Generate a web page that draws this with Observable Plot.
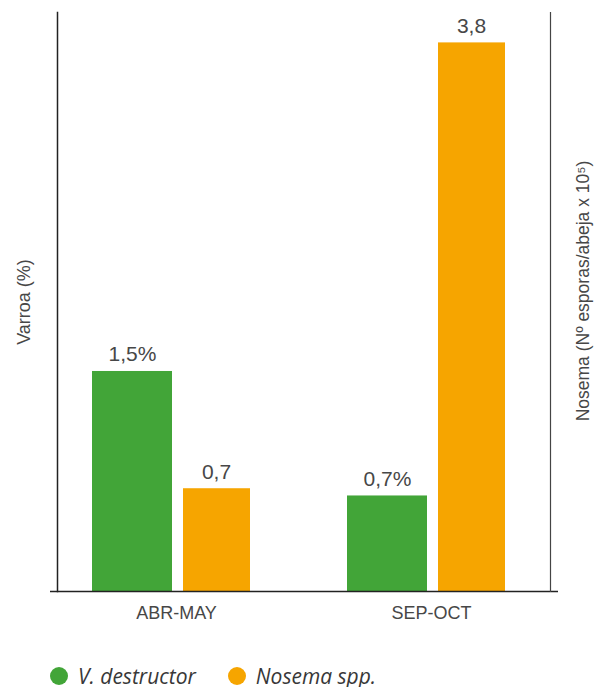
<!DOCTYPE html>
<html><head><meta charset="utf-8">
<script src="https://cdn.jsdelivr.net/npm/d3@7"></script>
<script src="https://cdn.jsdelivr.net/npm/@observablehq/plot@0.6"></script>
<style>
body{margin:0;background:#fff;overflow:hidden}
#legend{display:flex;align-items:center;height:22px;line-height:22px;padding-top:15px;padding-left:50px;font-family:"Open Sans",sans-serif;font-style:italic;font-size:21px;color:#383838}
.item{display:flex;align-items:center;margin-right:32px}
.sw{width:18px;height:18px;border-radius:50%;display:inline-block;margin-right:10px}
</style></head><body><div id="chart"></div><div id="legend"></div>
<script>
const periods = ["ABR-MAY", "SEP-OCT"];
const varroa = [1.52, 0.66];
const nosema = [0.71, 3.79];
const varroaLabels = ["1,5%", "0,7%"];
const nosemaLabels = ["0,7", "3,8"];
const series = ["V. destructor", "Nosema spp."];
const colors = ["#42a538", "#f6a500"];

const rows = periods.map((p, i) => ({period: p, varroa: varroa[i], nosema: nosema[i], vl: varroaLabels[i], nl: nosemaLabels[i]}));
const txt = "#474747";

const chart = Plot.plot({
  width: 596, height: 650,
  marginLeft: 57, marginRight: 46, marginTop: 12, marginBottom: 59,
  style: {fontFamily: "'Liberation Sans Narrow', sans-serif", color: txt, background: "#fff", display: "block"},
  x: {domain: periods, paddingInner: 0.34, paddingOuter: 0.133},
  y: {domain: [0, 4], axis: null},
  marks: [
    Plot.barY(rows, {x: "period", y: "varroa", fill: colors[0], insetLeft: 0, insetRight: 88}),
    Plot.barY(rows, {x: "period", y: "nosema", fill: colors[1], insetLeft: 91, insetRight: 10}),
    Plot.text(rows, {x: "period", y: "varroa", text: "vl", dx: -44, dy: -10, lineAnchor: "bottom", fontSize: 21, fill: txt}),
    Plot.text(rows, {x: "period", y: "nosema", text: "nl", dx: 40, dy: -10, lineAnchor: "bottom", fontSize: 21, fill: txt}),
    Plot.axisX({tickSize: 0, tickPadding: 15, fontSize: 18, label: null, fill: txt}),
    Plot.ruleY([0], {insetLeft: -7, insetRight: -8, stroke: "#222", strokeWidth: 1.5}),
    Plot.frame({anchor: "left", stroke: "#222", strokeWidth: 1.5}),
    Plot.frame({anchor: "right", stroke: "#444", strokeWidth: 1.2}),
    Plot.text(["Varroa (%)"], {frameAnchor: "left", textAnchor: "middle", dx: -33, rotate: -90, fontSize: 18, fill: txt}),
    Plot.text(["Nosema (Nº esporas/abeja x 10⁵)"], {frameAnchor: "right", textAnchor: "middle", dx: 33, dy: -11, rotate: -90, fontSize: 17.5, fill: txt})
  ]
});
document.getElementById("chart").appendChild(chart);

const legend = document.getElementById("legend");
series.forEach((s, i) => {
  const it = document.createElement("span");
  it.className = "item";
  it.innerHTML = `<span class="sw" style="background:${colors[i]}"></span><span>${s}</span>`;
  legend.appendChild(it);
});
</script>
</body></html>
